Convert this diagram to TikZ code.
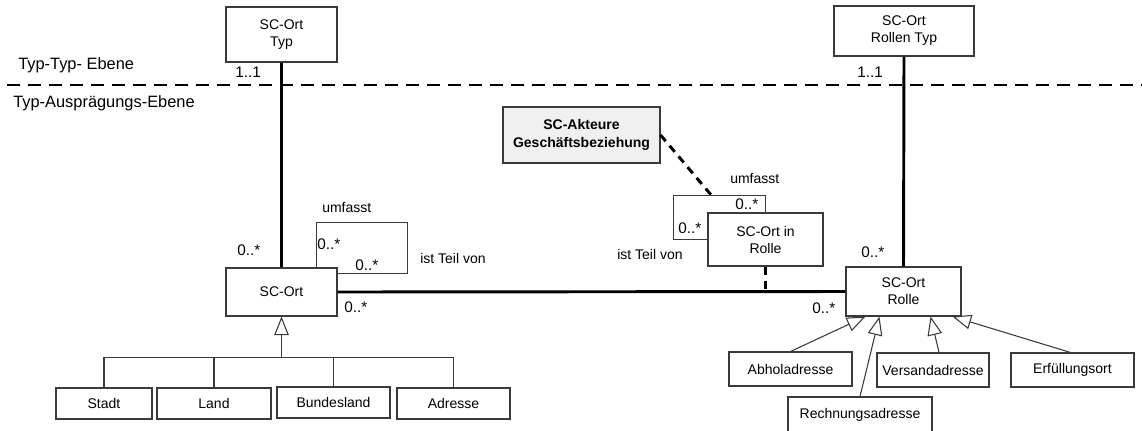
\documentclass[tikz,border=0pt]{standalone}
\usepackage{fontspec}
\setmainfont{Liberation Sans}
\usetikzlibrary{arrows.meta,calc}
\definecolor{UMLLine}{HTML}{3A3A3A}
\definecolor{UMLFill}{HTML}{F0F0F0}
\tikzset{
  cls/.style={draw=UMLLine,line width=.8pt,fill=white,inner sep=0pt,align=center,
              font=\fontsize{10.5}{12.75}\selectfont},
  clsgray/.style={cls,fill=UMLFill,font=\fontsize{10.5}{13.5}\selectfont\bfseries},
  assoc/.style={black,line width=2.2pt},
  assocdash/.style={assoc,dash pattern=on 6pt off 4.5pt},
  levelline/.style={black,line width=2.2pt,dash pattern=on 9.75pt off 6pt},
  selfassoc/.style={UMLLine,line width=.8pt},
  gen/.style={UMLLine,line width=.8pt,-{Triangle[open,length=14pt,width=11pt]}},
  tree/.style={UMLLine,line width=.8pt},
  mult/.style={font=\fontsize{11.5}{13}\selectfont,inner sep=0pt,anchor=base west},
  rolename/.style={font=\fontsize{10.5}{12.75}\selectfont,inner sep=0pt,anchor=base west},
  level/.style={font=\fontsize{12.3}{14}\selectfont,inner sep=0pt,anchor=base west},
}

\begin{document}
\begin{tikzpicture}[x=.75pt,y=-.75pt]
  \useasboundingbox (0,0) rectangle (1142,430);

  % ebenen
  \coordinate (levelleft) at (7,85);
  \coordinate (levelright) at (1142,85);
  \draw[levelline] (levelleft) -- (levelright);
  \node[level] (lvltyp) at (18,69) {Typ-Typ- Ebene};
  \node[level] (lvlauspr) at (13,107) {Typ-Ausprägungs-Ebene};

  % klassen
  \node[cls,minimum width=83.25pt,minimum height=41.25pt] (typ) at (281.5,34.5) {SC-Ort\\Typ};
  \node[cls,minimum width=105pt,minimum height=37.5pt] (rtyp) at (904,31) {SC-Ort\\Rollen Typ};
  \node[cls,minimum width=83.25pt,minimum height=36pt] (ort) at (281.5,292) {SC-Ort};
  \node[cls,minimum width=86.25pt,minimum height=36.75pt] (rolle) at (903.5,291.5) {SC-Ort\\Rolle};
  \node[clsgray,minimum width=117.75pt,minimum height=42pt] (akteure) at (581.5,135) {SC-Akteure\\Geschäftsbeziehung};

  % unterklassen links
  \node[cls,minimum width=72pt,minimum height=23.25pt] (stadt) at (104,403.5) {Stadt};
  \node[cls,minimum width=85.5pt,minimum height=23.25pt] (land) at (214,403.5) {Land};
  \node[cls,minimum width=84.75pt,minimum height=23.25pt] (bund) at (333.5,402.5) {Bundesland};
  \node[cls,minimum width=84.75pt,minimum height=23.25pt] (adresse) at (453.5,403.5) {Adresse};

  % unterklassen rechts
  \node[cls,minimum width=92.25pt,minimum height=25.5pt] (abhol) at (790.5,369) {Abholadresse};
  \node[cls,minimum width=84pt,minimum height=25.5pt] (versand) at (933,370) {Versandadresse};
  \node[cls,minimum width=92.25pt,minimum height=25.5pt] (erfuell) at (1072.5,370) {Erfüllungsort};
  \node[cls,minimum width=108pt,minimum height=26.25pt] (rechnung) at (860,414.5) {Rechnungsadresse};

  % assoziationen
  \draw[assoc] (typ.south) -- (ort.north);
  \draw[assoc] (rtyp.south) -- (rolle.north);
  \draw[assoc] (ort.east) -- (rolle.west);

  % reflexive assoziation SC-Ort
  \draw[selfassoc] ($(ort.north east)+(-21,0)$) -- ++(0,-45) -- ++(91,0) -- ++(0,51)
    -- ($(ort.north east)+(0,6)$);

  % assoziationsklasse
  \node[cls,minimum width=86.25pt,minimum height=39.75pt] (inrolle) at (765.5,239.5) {SC-Ort in\\Rolle};
  \draw[selfassoc] (inrolle.west) -- ++(-34,0) |- ($(inrolle.north)+(0,-17)$) -- (inrolle.north);
  \coordinate (akteureend) at ($(inrolle.north)+(-54,-17)$);
  \draw[assocdash] (akteure.east) -- (akteureend);
  \draw[assocdash] (inrolle.south) -- (inrolle.south |- ort.east);

  % generalisierung links
  \coordinate (treejoin) at ($(ort.south)+(0,41)$);
  \draw[gen] (treejoin) -- (ort.south);
  \draw[tree] (stadt.north) |- (treejoin) -| (adresse.north);
  \draw[tree] (land.north) -- (land.north |- treejoin);
  \draw[tree] (bund.north) -- (bund.north |- treejoin);

  % generalisierung rechts
  \draw[gen] (abhol.north) -- ($(rolle.south west)+(20,0)$);
  \draw[gen] (rechnung.north) -- ($(rolle.south west)+(34,0)$);
  \draw[gen] ($(versand.north)+(6,0)$) -- ($(rolle.south east)+(-31,0)$);
  \draw[gen] ($(erfuell.north)+(-2,0)$) -- ($(rolle.south east)+(-9,0)$);

  % multiplizitaeten
  \node[mult] (mtyp) at (235,77) {1..1};
  \node[mult] (mrtyp) at (857,77) {1..1};
  \node[mult] (mortup) at (237,255) {0..*};
  \node[mult] (mselfa) at (317,249) {0..*};
  \node[mult] (mselfb) at (355,270) {0..*};
  \node[mult] (mortright) at (344,312) {0..*};
  \node[mult] (mrselfa) at (735,209) {0..*};
  \node[mult] (mrselfb) at (678,233) {0..*};
  \node[mult] (mrolleup) at (861,257) {0..*};
  \node[mult] (mrolleleft) at (812,313) {0..*};

  % rollennamen
  \node[rolename] (umf) at (322,212) {umfasst};
  \node[rolename] (teil) at (420,263) {ist Teil von};
  \node[rolename] (rumf) at (730,183) {umfasst};
  \node[rolename] (rteil) at (617,259) {ist Teil von};
\end{tikzpicture}
\end{document}
